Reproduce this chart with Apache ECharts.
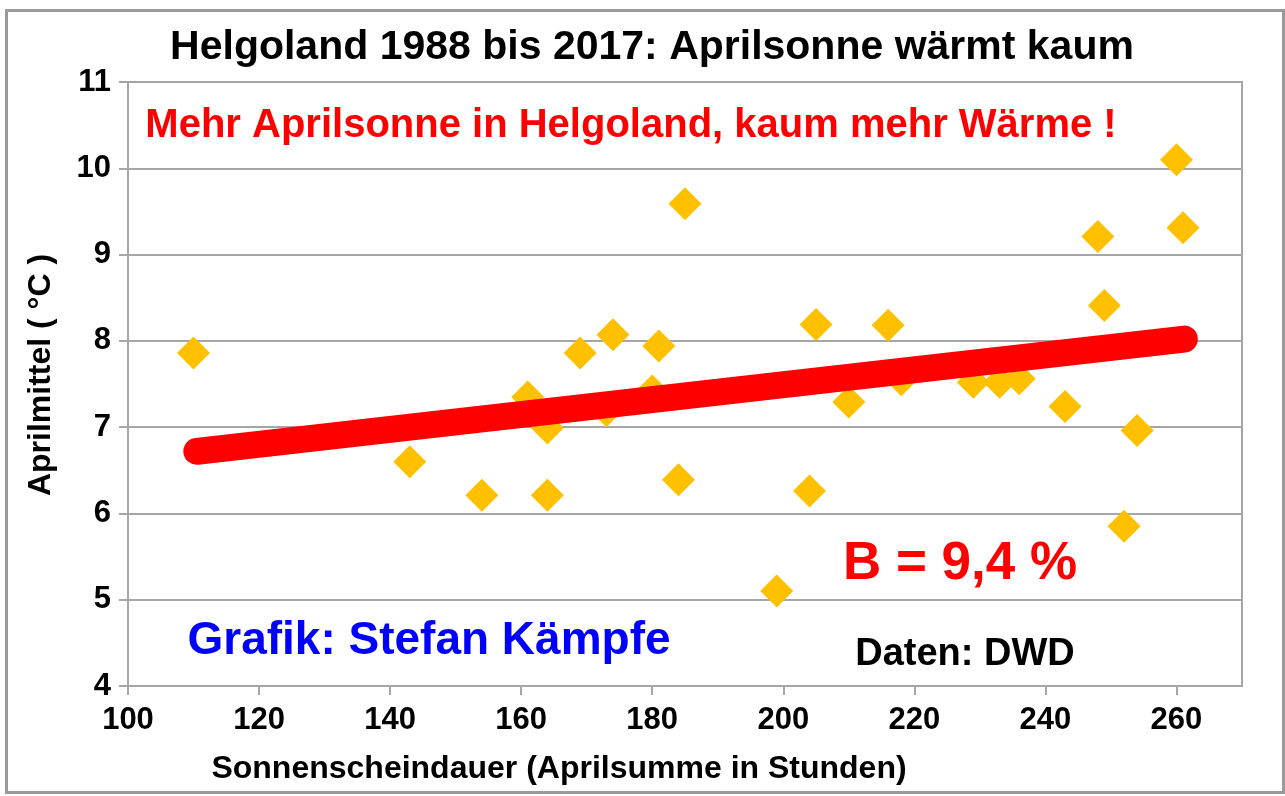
<!DOCTYPE html>
<html>
<head>
<meta charset="utf-8">
<script src="https://cdn.jsdelivr.net/npm/echarts@6/dist/echarts.min.js"></script>
<style>
html,body{margin:0;padding:0;background:#fff;}
#chart{width:1285px;height:796px;}
</style>
</head>
<body>
<div id="chart"></div>
<script>
// Sunshine hours (April sum) and April mean temperature, Helgoland
const sunHours = [110, 143, 154, 161, 164, 164, 169, 173, 174, 180, 181, 184, 185, 199, 204, 205, 210, 216, 218, 229, 233, 236, 243, 248, 249, 252, 254, 260, 261];
const aprilTemp = [7.86, 6.60, 6.21, 7.35, 6.21, 6.99, 7.86, 7.19, 8.07, 7.42, 7.94, 6.39, 9.59, 5.10, 6.26, 8.19, 7.29, 8.18, 7.55, 7.52, 7.52, 7.56, 7.24, 9.21, 8.41, 5.85, 6.96, 10.10, 9.31];
const trendX = [110.5, 261.2];
const trendY = [6.72, 8.02];
const xTicks = [100, 120, 140, 160, 180, 200, 220, 240, 260];
const yTicks = [4, 5, 6, 7, 8, 9, 10, 11];

const points = sunHours.map((x, i) => [x, aprilTemp[i]]);
const trend = trendX.map((x, i) => [x, trendY[i]]);

const chart = echarts.init(document.getElementById('chart'));
const FONT = 'Liberation Sans, Arial, sans-serif';
const GRAY = '#a6a6a6';

chart.setOption({
  animation: false,
  backgroundColor: '#ffffff',
  grid: {left: 128, right: 43, top: 82, bottom: 110, show: true, borderColor: GRAY, borderWidth: 2, backgroundColor: 'transparent'},
  xAxis: {
    type: 'value', min: 100, max: 270, interval: 20,
    axisLine: {show: true, onZero: false, lineStyle: {color: GRAY, width: 2}},
    axisTick: {show: true, inside: false, length: 9, lineStyle: {color: GRAY, width: 2}},
    axisLabel: {show: true, color: '#000', fontFamily: FONT, fontWeight: 'bold', fontSize: 31, margin: 19,
      showMaxLabel: false,
      formatter: v => xTicks.includes(v) ? String(v) : ''},
    splitLine: {show: false}
  },
  yAxis: {
    type: 'value', min: 4, max: 11, interval: 1,
    axisLine: {show: true, onZero: false, lineStyle: {color: GRAY, width: 2}},
    axisTick: {show: true, inside: false, length: 9, lineStyle: {color: GRAY, width: 2}},
    axisLabel: {show: true, color: '#000', fontFamily: FONT, fontWeight: 'bold', fontSize: 31, margin: 17,
      formatter: v => yTicks.includes(v) ? String(v) : ''},
    splitLine: {show: true, lineStyle: {color: GRAY, width: 2}}
  },
  series: [
    {
      type: 'scatter', data: points, symbol: 'diamond', symbolSize: [33, 33],
      itemStyle: {color: '#FFC000', opacity: 1}, z: 2
    },
    {
      type: 'line', data: trend, symbol: 'none', z: 3,
      lineStyle: {color: '#FF0000', width: 27, cap: 'round'}
    }
  ],
  graphic: [
    {type: 'rect', left: 4, top: 8, shape: {width: 1277, height: 782}, style: {fill: 'none', stroke: '#9a9a9a', lineWidth: 3}, z: -10, silent: true},
    {type: 'text', x: 652, y: 48, style: {text: 'Helgoland 1988 bis 2017: Aprilsonne wärmt kaum', fontFamily: FONT, fontWeight: 'bold', fontSize: 41, fill: '#000', align: 'center', verticalAlign: 'middle'}},
    {type: 'text', x: 631, y: 126, style: {text: 'Mehr Aprilsonne in Helgoland, kaum mehr Wärme !', fontFamily: FONT, fontWeight: 'bold', fontSize: 40, fill: '#FF0000', align: 'center', verticalAlign: 'middle'}},
    {type: 'text', x: 429, y: 641, style: {text: 'Grafik: Stefan Kämpfe', fontFamily: FONT, fontWeight: 'bold', fontSize: 46, fill: '#0000FF', align: 'center', verticalAlign: 'middle'}},
    {type: 'text', x: 960, y: 564, style: {text: 'B = 9,4 %', fontFamily: FONT, fontWeight: 'bold', fontSize: 53, fill: '#FF0000', align: 'center', verticalAlign: 'middle'}},
    {type: 'text', x: 965, y: 655, style: {text: 'Daten: DWD', fontFamily: FONT, fontWeight: 'bold', fontSize: 38, fill: '#000', align: 'center', verticalAlign: 'middle'}},
    {type: 'text', x: 559, y: 769, style: {text: 'Sonnenscheindauer (Aprilsumme in Stunden)', fontFamily: FONT, fontWeight: 'bold', fontSize: 32, fill: '#000', align: 'center', verticalAlign: 'middle'}},
    {type: 'text', x: 41, y: 375, rotation: Math.PI / 2, style: {text: 'Aprilmittel ( °C )', fontFamily: FONT, fontWeight: 'bold', fontSize: 32, fill: '#000', align: 'center', verticalAlign: 'middle'}}
  ]
});
</script>
</body>
</html>
